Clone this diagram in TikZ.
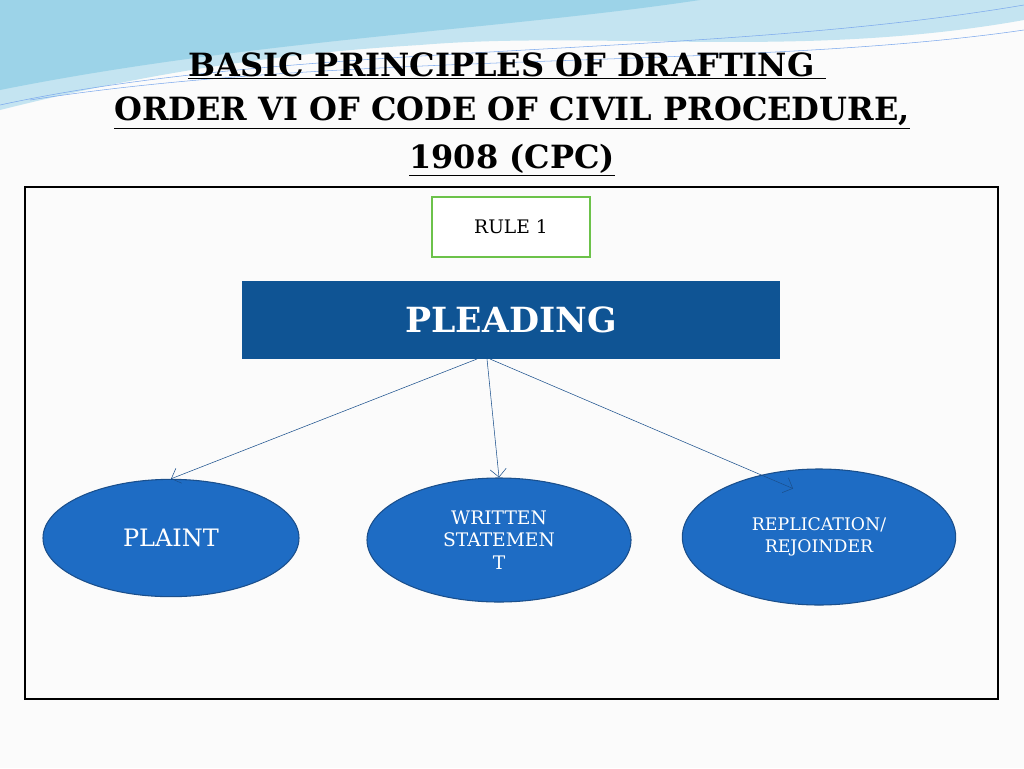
\documentclass[tikz,border=0pt]{standalone}
\usepackage{fontspec}
\setmainfont{DejaVu Serif}
\usetikzlibrary{shapes.geometric,arrows.meta}
\definecolor{darkblue}{HTML}{0F5494}
\definecolor{ovalblue}{HTML}{1E6CC4}
\definecolor{ovalline}{HTML}{1A4F8C}
\definecolor{wave}{HTML}{9CD3E8}
\definecolor{rulegreen}{HTML}{6CC24A}
\tikzset{
  title/.style={font=\bfseries\fontsize{24}{28}\selectfont, anchor=center},
  oval/.style={ellipse, draw=ovalline, fill=ovalblue, text=white, align=center, thick},
  link/.style={draw=ovalline, -{Straight Barb[length=6pt]}, thin}
}
\begin{document}
\begin{tikzpicture}[x=0.75pt,y=-0.75pt]
	\useasboundingbox (0,0) rectangle (1024,768);
	\fill [white!97!gray] (0,0) rectangle (1024,768);
	% waves
	\fill [wave!60] (0,0) -- (1024,0) -- (1024,20) .. controls (800,60) and (600,30) .. (420,45) .. controls (250,55) and (120,80) .. (0,110) -- cycle;
	\fill [wave] (0,0) -- (700,0) .. controls (500,30) and (250,40) .. (0,90) -- cycle;
	\draw [wave!80!blue, thin] (0,105) .. controls (300,40) and (700,60) .. (1024,5);
	\draw [wave!80!blue, thin] (30,100) .. controls (350,50) and (750,70) .. (1024,30);
	% title
	\node [title] (t1) at (507,66) {\underline{BASIC PRINCIPLES OF DRAFTING }};
	\node [title] (t2) at (512,113) {\underline{ORDER VI OF CODE OF CIVIL PROCEDURE,}};
	\node [title] (t3) at (512,160) {\underline{1908 (CPC)}};
	% frame
	\draw [line width=1.5pt, fill=white!97!gray] (25,187) rectangle (998,699);
	\node [draw=rulegreen, line width=1.5pt, fill=white, minimum width=118pt, minimum height=45pt, font=\fontsize{14}{16}\selectfont] (rule) at (511,227) {RULE 1};
	\node [fill=darkblue, text=white, minimum width=404pt, minimum height=58pt, font=\bfseries\fontsize{26}{30}\selectfont] (pleading) at (511,320) {PLEADING};
	% ovals
	\node [oval, minimum width=192pt, minimum height=88pt, font=\fontsize{18}{22}\selectfont] (plaint) at (171,538) {PLAINT};
	\node [oval, minimum width=198pt, minimum height=93pt, font=\fontsize{14}{17}\selectfont] (written) at (499,540) {WRITTEN\\STATEMEN\\T};
	\node [oval, minimum width=205pt, minimum height=102pt, font=\fontsize{13}{17}\selectfont] (replication) at (819,537) {REPLICATION/\\REJOINDER};
	% arrows
	\coordinate (pa) at (477,359);
	\coordinate (pb) at (487,359);
	\coordinate (pc) at (490,359);
	\draw [link] (pa) -- (plaint.north);
	\draw [link] (pb) -- (written.north);
	\draw [link] (pc) -- (replication.north west -| 793,468);
\end{tikzpicture}
\end{document}
